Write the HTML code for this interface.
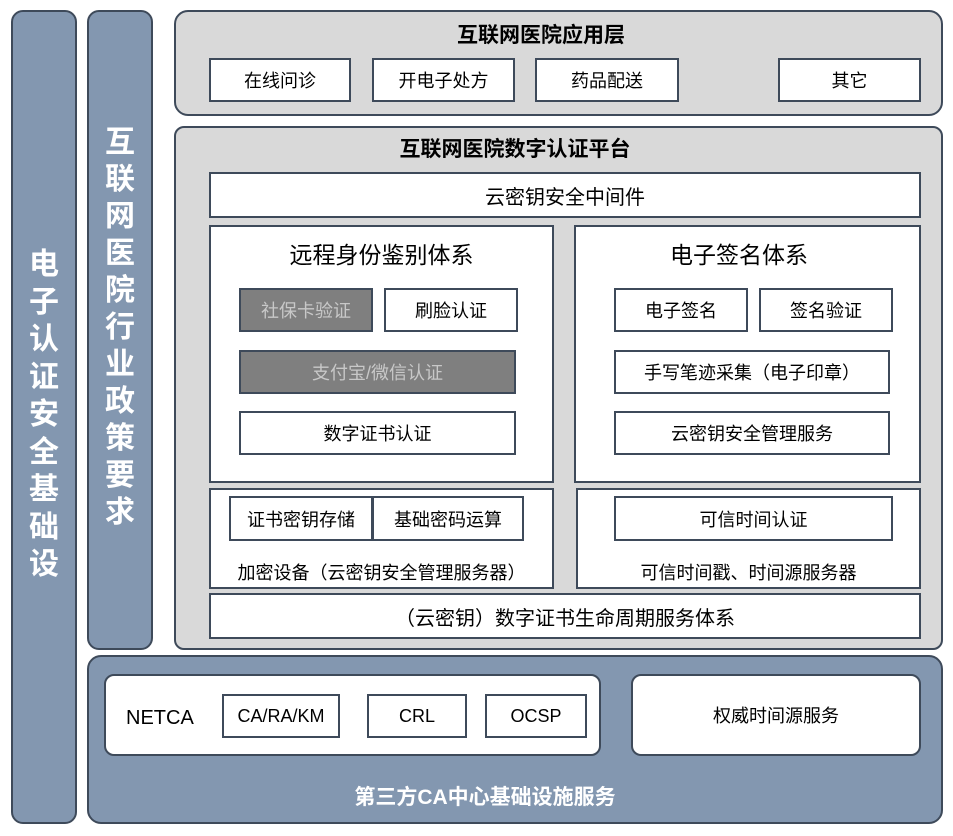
<!DOCTYPE html>
<html><head><meta charset="utf-8"><style>
body{margin:0;width:953px;height:836px;background:#fff;position:relative;font-family:"Liberation Sans","Noto Sans CJK SC",sans-serif;overflow:hidden}
div{position:absolute;box-sizing:border-box}
.bl{background:#8397b0;border:2px solid #3e4a5a;border-radius:12px}
.gr{background:#d9d9d9;border:2px solid #3e4a5a;border-radius:14px}
.w{background:#fff;border:2px solid #3e4a5a;display:flex;align-items:center;justify-content:center;font-size:18px;color:#000}
.d{background:#7f7f7f;border:2px solid #3e4a5a;display:flex;align-items:center;justify-content:center;font-size:18px;color:#c8c8c8}
.t{text-align:center;white-space:nowrap}
.v{color:#fff;font-weight:bold;font-size:30px;text-align:center;line-height:37.5px}
</style></head><body>
<div class="bl" style="left:11px;top:10px;width:66px;height:814px"></div>
<div class="v" style="left:11px;top:246px;width:66px">电<br>子<br>认<br>证<br>安<br>全<br>基<br>础<br>设</div>
<div class="bl" style="left:87px;top:10px;width:66px;height:640px"></div>
<div class="v" style="left:87px;top:124px;width:66px;line-height:37px">互<br>联<br>网<br>医<br>院<br>行<br>业<br>政<br>策<br>要<br>求</div>

<div class="gr" style="left:174px;top:10px;width:769px;height:106px"></div>
<div class="t" style="left:341px;top:19px;width:400px;font-size:21px;font-weight:bold">互联网医院应用层</div>
<div class="w" style="left:209px;top:58px;width:142px;height:44px">在线问诊</div>
<div class="w" style="left:372px;top:58px;width:143px;height:44px">开电子处方</div>
<div class="w" style="left:535px;top:58px;width:144px;height:44px">药品配送</div>
<div class="w" style="left:778px;top:58px;width:143px;height:44px">其它</div>

<div class="gr" style="left:174px;top:126px;width:769px;height:524px;border-radius:10px"></div>
<div class="t" style="left:315px;top:133px;width:400px;font-size:21px;font-weight:bold">互联网医院数字认证平台</div>
<div class="w" style="left:209px;top:172px;width:712px;height:46px;font-size:20px">云密钥安全中间件</div>

<div class="w" style="left:209px;top:225px;width:345px;height:258px"></div>
<div class="t" style="left:209px;top:236px;width:345px;font-size:23px">远程身份鉴别体系</div>
<div class="d" style="left:239px;top:288px;width:134px;height:44px">社保卡验证</div>
<div class="w" style="left:384px;top:288px;width:134px;height:44px">刷脸认证</div>
<div class="d" style="left:239px;top:350px;width:277px;height:44px">支付宝/微信认证</div>
<div class="w" style="left:239px;top:411px;width:277px;height:44px">数字证书认证</div>

<div class="w" style="left:574px;top:225px;width:347px;height:258px"></div>
<div class="t" style="left:574px;top:236px;width:330px;font-size:23px">电子签名体系</div>
<div class="w" style="left:614px;top:288px;width:134px;height:44px">电子签名</div>
<div class="w" style="left:759px;top:288px;width:134px;height:44px">签名验证</div>
<div class="w" style="left:614px;top:350px;width:276px;height:44px">手写笔迹采集（电子印章）</div>
<div class="w" style="left:614px;top:411px;width:276px;height:44px">云密钥安全管理服务</div>

<div class="w" style="left:209px;top:488px;width:345px;height:101px"></div>
<div class="w" style="left:229px;top:496px;width:144px;height:45px">证书密钥存储</div>
<div class="w" style="left:372px;top:496px;width:152px;height:45px">基础密码运算</div>
<div class="t" style="left:209px;top:559px;width:345px;font-size:18px">加密设备（云密钥安全管理服务器）</div>
<div class="w" style="left:576px;top:488px;width:345px;height:101px"></div>
<div class="w" style="left:614px;top:496px;width:279px;height:45px">可信时间认证</div>
<div class="t" style="left:576px;top:559px;width:345px;font-size:18px">可信时间戳、时间源服务器</div>
<div class="w" style="left:209px;top:593px;width:712px;height:46px;font-size:20px">（云密钥）数字证书生命周期服务体系</div>

<div class="bl" style="left:87px;top:655px;width:856px;height:169px;border-radius:14px"></div>
<div class="w" style="left:104px;top:674px;width:497px;height:82px;border-radius:10px"></div>
<div style="left:126px;top:707px;font-size:20px">NETCA</div>
<div class="w" style="left:222px;top:694px;width:118px;height:44px">CA/RA/KM</div>
<div class="w" style="left:367px;top:694px;width:100px;height:44px">CRL</div>
<div class="w" style="left:485px;top:694px;width:102px;height:44px">OCSP</div>
<div class="w" style="left:631px;top:674px;width:290px;height:82px;border-radius:10px">权威时间源服务</div>
<div class="t" style="left:300px;top:781px;width:370px;font-size:21px;font-weight:bold;color:#fff">第三方CA中心基础设施服务</div>
</body></html>
